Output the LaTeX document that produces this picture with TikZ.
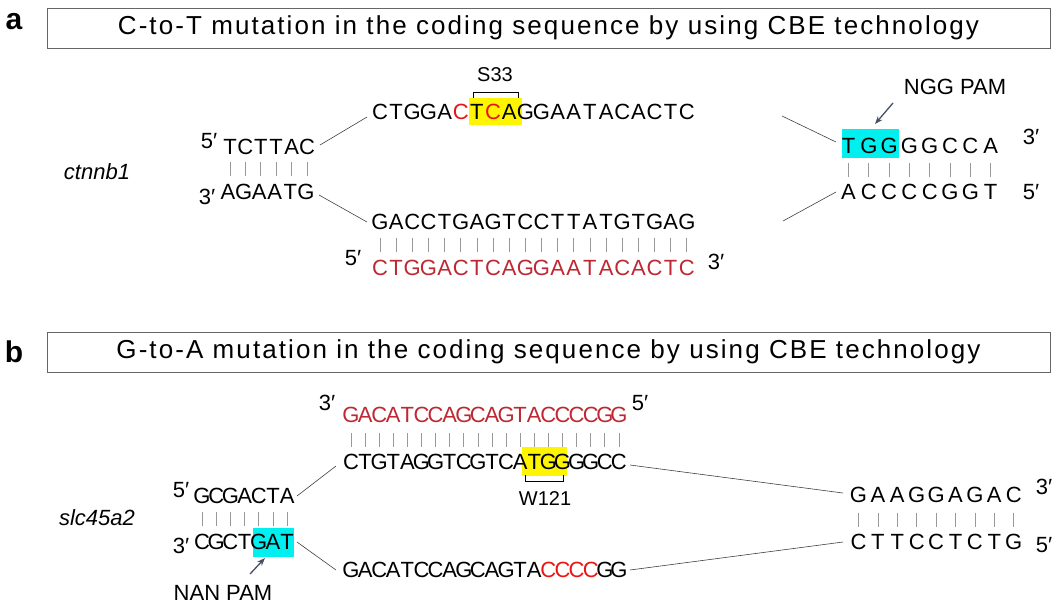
\documentclass[tikz,border=0pt]{standalone}
\usepackage{fontspec}
\setmainfont{Liberation Sans}
\usetikzlibrary{arrows.meta}
\definecolor{dred}{RGB}{190,40,50}
\definecolor{bred}{RGB}{235,20,20}
\definecolor{hyel}{RGB}{255,245,0}
\definecolor{hcyan}{RGB}{0,240,240}
\definecolor{arr}{RGB}{70,80,100}
\newcommand\R{\color{bred}}
\newcommand\seqrow[6]{\foreach \ch [count=\k from 0] in {#4} {\node[lt,text=#6] (#5\k) at (#1+\k*#3,#2) {\ch};}}
\newcommand\barrow[4]{\foreach \k in {0,...,#4} {\draw[bar] (#1+\k*#3,#2-7) -- (#1+\k*#3,#2+7);}}
\tikzset{
 lt/.style={font=\fontsize{22}{26}\selectfont,inner sep=0,anchor=center},
 prime/.style={font=\fontsize{22}{26}\selectfont,inner sep=0},
 bar/.style={draw=gray!80,line width=0.8pt},
 conn/.style={draw=black!75,line width=0.6pt},
 titlebox/.style={draw=black!60,line width=0.7pt,minimum width=1003pt,minimum height=40pt,font=\fontsize{26}{28}\selectfont\addfontfeature{LetterSpace=8}},
 plabel/.style={font=\fontsize{30}{32}\selectfont\bfseries,inner sep=0},
 gene/.style={font=\fontsize{22}{26}\selectfont\itshape,inner sep=0},
 small/.style={font=\fontsize{20}{24}\selectfont,inner sep=0},
 pamtxt/.style={font=\fontsize{22}{26}\selectfont,inner sep=0},
 pam/.style={-{Stealth[length=8pt,width=6pt]},draw=arr,line width=1.3pt},
}
\begin{document}
\begin{tikzpicture}[x=1pt,y=-1pt]
\useasboundingbox (0,0) rectangle (1057,611);
% ---------- panel a
\node[plabel] (la) at (14,22) {a};
\node[titlebox] (ta) at (548.5,28) {C-to-T mutation in the coding sequence by using CBE technology};
\node[gene] (g1) at (97,172) {ctnnb1};
\fill[hyel] (469,98) rectangle (522,125);
\fill[hcyan] (842,129) rectangle (899,158);
\node[prime] (p1) at (209,141) {5′};
\node[prime] (p2) at (207,197) {3′};
\seqrow{230}{147}{15.4}{T,C,T,T,A,C}{a}{black}
\barrow{230}{169}{15.4}{5}
\seqrow{228}{192}{15.6}{A,G,A,A,T,G}{b}{black}
\seqrow{380}{112}{16.15}{C,T,G,G,A,\R C,T,\R C,A,G,G,A,A,T,A,C,A,C,T,C}{c}{black}
\node[small] (s33) at (495,75) {S33};
\draw[line width=0.8pt] (473,98) -- (473,92) -- (518,92) -- (518,98);
\seqrow{380}{222}{16.15}{G,A,C,C,T,G,A,G,T,C,C,T,T,A,T,G,T,G,A,G}{d}{black}
\barrow{380}{244.5}{16.15}{19}
\seqrow{380}{268}{16.15}{C,T,G,G,A,C,T,C,A,G,G,A,A,T,A,C,A,C,T,C}{e}{dred}
\node[prime] (p3) at (353,258) {5′};
\node[prime] (p4) at (716,262) {3′};
\seqrow{848.5}{146}{20.3}{T,G,G,G,G,C,C,A}{f}{black}
\barrow{848.5}{170}{20.3}{7}
\seqrow{848.5}{192}{20.3}{A,C,C,C,C,G,G,T}{h}{black}
\node[prime] (p5) at (1031,137) {3′};
\node[prime] (p6) at (1031,192) {5′};
\node[pamtxt] (ngg) at (955,87) {NGG PAM};
\coordinate (ngt) at (893,103); \coordinate (ngh) at (875,124);
\draw[pam] (ngt) -- (ngh);
\coordinate (c1a) at (320,145); \coordinate (c1b) at (367,117);
\coordinate (c2a) at (319,195); \coordinate (c2b) at (367,222);
\coordinate (c3a) at (782,116); \coordinate (c3b) at (836,142);
\coordinate (c4a) at (783,221); \coordinate (c4b) at (836,192);
\draw[conn] (c1a) -- (c1b); \draw[conn] (c2a) -- (c2b);
\draw[conn] (c3a) -- (c3b); \draw[conn] (c4a) -- (c4b);
% ---------- panel b
\node[plabel] (lb) at (14,352) {b};
\node[titlebox] (tb) at (548.5,352) {G-to-A mutation in the coding sequence by using CBE technology};
\node[gene] (g2) at (97,518) {slc45a2};
\fill[hyel] (522,447) rectangle (567,476);
\fill[hcyan] (253,528) rectangle (294,557);
\node[prime] (q1) at (181,490) {5′};
\node[prime] (q2) at (181,546) {3′};
\seqrow{202}{496}{14.2}{G,C,G,A,C,T,A}{k}{black}
\barrow{202}{518.5}{14.2}{6}
\seqrow{202}{542}{14.2}{C,G,C,T,G,A,T}{m}{black}
\node[pamtxt] (nan) at (223,593) {NAN PAM};
\coordinate (nat) at (250,574); \coordinate (nah) at (265,558);
\draw[pam] (nat) -- (nah);
\seqrow{351}{415}{14.1}{G,A,C,A,T,C,C,A,G,C,A,G,T,A,C,C,C,C,G,G}{n}{dred}
\node[prime] (q3) at (327,403) {3′};
\node[prime] (q4) at (640,403) {5′};
\barrow{351}{440}{14.1}{19}
\seqrow{351}{462}{14.1}{C,T,G,T,A,G,G,T,C,G,T,C,A,T,G,G,G,G,C,C}{o}{black}
\draw[line width=0.8pt] (525,475) -- (525,481) -- (563,481) -- (563,475);
\node[small] (w121) at (545,499) {W121};
\seqrow{351}{570}{14.1}{G,A,C,A,T,C,C,A,G,C,A,G,T,A,\R C,\R C,\R C,\R C,G,G}{r}{black}
\seqrow{858.5}{495}{19.4}{G,A,A,G,G,A,G,A,C}{s}{black}
\barrow{858.5}{519.5}{19.4}{8}
\seqrow{858.5}{542}{19.4}{C,T,T,C,C,T,C,T,G}{t}{black}
\node[prime] (q5) at (1044,487) {3′};
\node[prime] (q6) at (1044,545) {5′};
\coordinate (d1a) at (297,496); \coordinate (d1b) at (336,466);
\coordinate (d2a) at (297,542); \coordinate (d2b) at (336,570);
\coordinate (d3a) at (630,465); \coordinate (d3b) at (843,493);
\coordinate (d4a) at (630,570); \coordinate (d4b) at (843,542);
\draw[conn] (d1a) -- (d1b); \draw[conn] (d2a) -- (d2b);
\draw[conn] (d3a) -- (d3b); \draw[conn] (d4a) -- (d4b);
\end{tikzpicture}
\end{document}
